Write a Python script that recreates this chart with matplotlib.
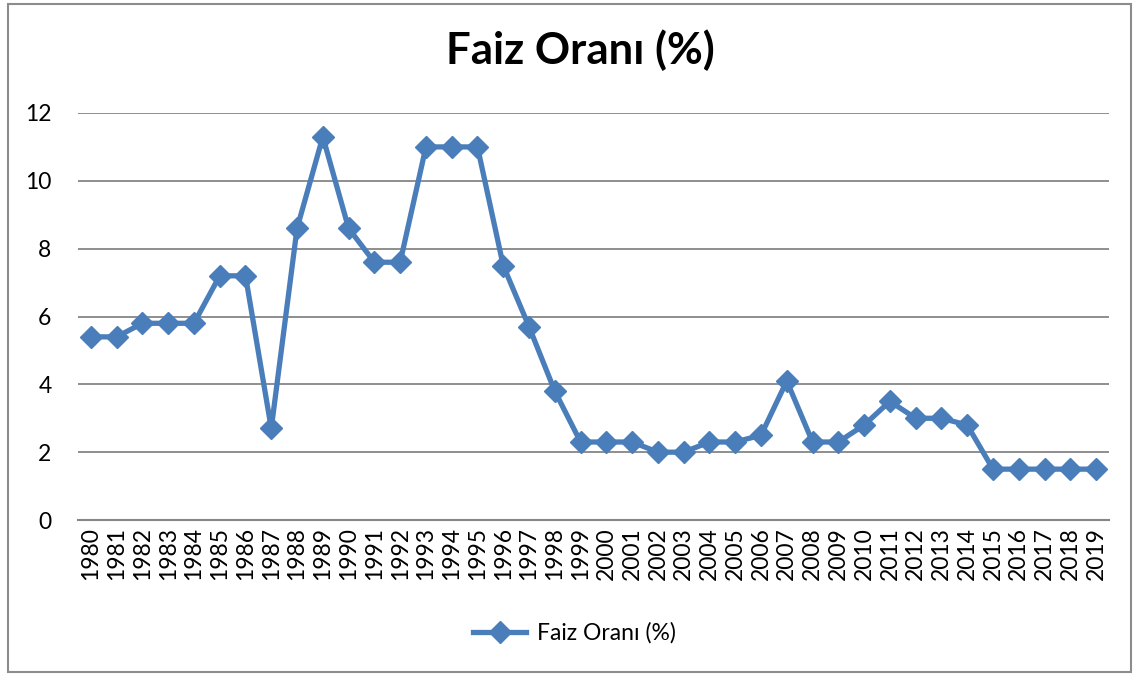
import matplotlib
matplotlib.use("Agg")
import matplotlib.pyplot as plt
from matplotlib.patches import Rectangle

plt.rcParams['font.family'] = ['Lato', 'DejaVu Sans']

# data
years = [str(y) for y in range(1980, 2020)]
faiz = [5.4, 5.4, 5.8, 5.8, 5.8, 7.2, 7.2, 2.7, 8.6, 11.3,
        8.6, 7.6, 7.6, 11.0, 11.0, 11.0, 7.5, 5.7, 3.8, 2.3,
        2.3, 2.3, 2.0, 2.0, 2.3, 2.3, 2.5, 4.1, 2.3, 2.3,
        2.8, 3.5, 3.0, 3.0, 2.8, 1.5, 1.5, 1.5, 1.5, 1.5]
y_ticks = [0, 2, 4, 6, 8, 10, 12]
series_name = "Faiz Oranı (%)"

blue = "#4A7EBB"
grid_gray = "#868686"

fig = plt.figure(figsize=(11.38, 6.75), dpi=100)
ax = fig.add_axes([0.0685, 0.2296, 0.906, 0.603])

x = list(range(len(years)))
ax.plot(x, faiz, color=blue, lw=3.8, marker="D", markersize=11,
        markerfacecolor=blue, markeredgecolor=blue, label=series_name, zorder=3)

ax.set_xlim(-0.5, len(years) - 0.5)
ax.set_ylim(0, 12)
ax.set_yticks(y_ticks)
ax.set_xticks(x)
ax.set_xticklabels(years, rotation=90, fontsize=16.5)
ax.tick_params(axis="y", labelsize=16.5, length=0, pad=19)
ax.tick_params(axis="x", length=0, pad=5)
ax.yaxis.grid(True, color=grid_gray, lw=1.3)
ax.set_axisbelow(True)
for s in ax.spines.values():
    s.set_visible(False)
ax.axhline(0, color=grid_gray, lw=1.5, zorder=1, clip_on=False)

fig.text(0.51, 0.925, series_name, ha="center", va="center",
         fontsize=31.5, fontweight="bold")

fig.legend(loc="center", bbox_to_anchor=(0.505, 0.062), frameon=False,
           fontsize=16.5, handlelength=2.3, handletextpad=0.5)

# chart border
fig.patches.append(Rectangle((0.007, 0.004), 0.987, 0.99, transform=fig.transFigure,
                             fill=False, edgecolor="#8c8c8c", lw=1.5))

fig.savefig("out.png", dpi=100)
